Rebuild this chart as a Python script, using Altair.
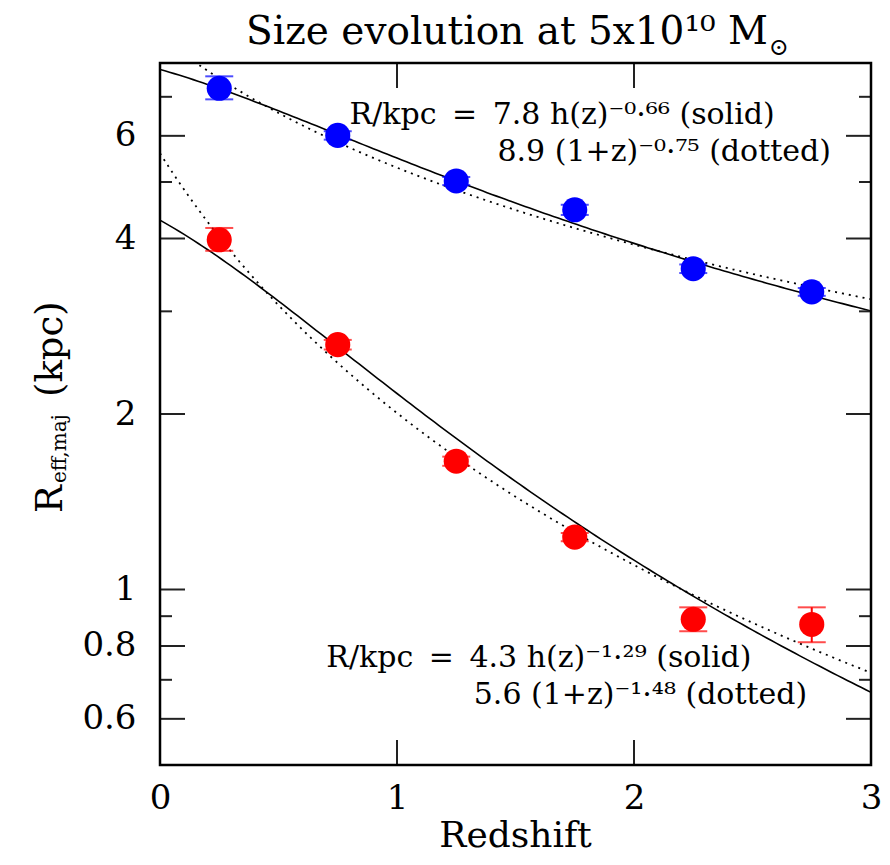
import altair as alt
import numpy as np
import pandas as pd

# ---- data ----
z = [0.25, 0.75, 1.25, 1.75, 2.25, 2.75]
blue_r = [7.24, 6.01, 5.02, 4.48, 3.55, 3.24]
blue_lo = [6.93, 5.91, 4.94, 4.39, 3.49, 3.19]
blue_hi = [7.59, 6.11, 5.10, 4.57, 3.61, 3.29]
red_r = [3.98, 2.63, 1.66, 1.23, 0.889, 0.871]
red_lo = [3.81, 2.58, 1.63, 1.21, 0.848, 0.812]
red_hi = [4.17, 2.68, 1.69, 1.25, 0.932, 0.932]

# fit parameters quoted on the chart
blue_solid = (7.8, -0.66)
blue_dotted = (8.9, -0.75)
red_solid = (4.3, -1.29)
red_dotted = (5.6, -1.48)
omega_m = 0.27

y_major = [0.6, 0.8, 1, 2, 4, 6]
y_minor = [0.7, 0.9, 3, 5, 7]
x_major = [0, 1, 2, 3]

W, H = 711, 702
FONT = "DejaVu Serif"
BLUE = "#0000ff"
RED = "#ff0000"

zz = np.linspace(0, 3, 151)
hz = np.sqrt(omega_m * (1 + zz) ** 3 + 1 - omega_m)
curves = pd.DataFrame({
    "z": zz,
    "bs": blue_solid[0] * hz ** blue_solid[1],
    "bd": blue_dotted[0] * (1 + zz) ** blue_dotted[1],
    "rs": red_solid[0] * hz ** red_solid[1],
    "rd": red_dotted[0] * (1 + zz) ** red_dotted[1],
})
pts = pd.DataFrame({"z": z * 2,
                    "r": blue_r + red_r,
                    "lo": blue_lo + red_lo,
                    "hi": blue_hi + red_hi,
                    "s": ["b"] * 6 + ["r"] * 6})

xscale = alt.Scale(domain=[0, 3], nice=False, zero=False)
yscale = alt.Scale(type="log", domain=[0.5, 8], nice=False)
xaxis = alt.Axis(values=x_major, format="d", title=None, labelFlush=False,
                 labelOverlap=False, labelPadding=16, ticks=False, domain=False,
                 grid=False, labelFontSize=34, labelFont=FONT, labelColor="black")
yaxis = alt.Axis(values=y_major, format="~g", title=None, labelOverlap=False,
                 labelPadding=24, ticks=False, domain=False, grid=False,
                 labelFontSize=34, labelFont=FONT, labelColor="black",
                 labelBaseline="middle")

def X(f):
    return alt.X(f, type="quantitative", scale=xscale, axis=xaxis)

def Y(f):
    return alt.Y(f, type="quantitative", scale=yscale, axis=yaxis)

layers = []
base_c = alt.Chart(curves)
for col, dash in [("bs", None), ("bd", [2, 5]), ("rs", None), ("rd", [2, 5])]:
    kw = dict(clip=True, color="black", strokeWidth=1.6)
    if dash:
        kw["strokeDash"] = dash
        kw["strokeWidth"] = 1.8
    layers.append(base_c.mark_line(**kw).encode(x=X("z"), y=Y(col)))

colscale = alt.Scale(domain=["b", "r"], range=[BLUE, RED])
base_p = alt.Chart(pts)
layers.append(base_p.mark_rule(strokeWidth=2).encode(
    x=X("z"), y=Y("lo"), y2="hi",
    color=alt.Color("s:N", scale=colscale, legend=None)))
for f in ["lo", "hi"]:
    layers.append(base_p.mark_tick(orient="horizontal", size=28, thickness=2).encode(
        x=X("z"), y=Y(f), color=alt.Color("s:N", scale=colscale, legend=None)))
layers.append(base_p.mark_circle(size=630, opacity=1).encode(
    x=X("z"), y=Y("r"), color=alt.Color("s:N", scale=colscale, legend=None)))

# inward frame ticks
tick_col = "#222222"
ymaj = alt.Chart(pd.DataFrame({"v": y_major}))
ymin = alt.Chart(pd.DataFrame({"v": y_minor}))
xmaj = alt.Chart(pd.DataFrame({"v": x_major}))
for src, ln in [(ymaj, 25), (ymin, 12)]:
    layers.append(src.mark_rule(color=tick_col, strokeWidth=2).encode(
        y=Y("v"), x=alt.value(0), x2=alt.value(ln)))
    layers.append(src.mark_rule(color=tick_col, strokeWidth=2).encode(
        y=Y("v"), x=alt.value(W - ln), x2=alt.value(W)))
layers.append(xmaj.mark_rule(color=tick_col, strokeWidth=2).encode(
    x=X("v"), y=alt.value(H), y2=alt.value(H - 25)))
layers.append(xmaj.mark_rule(color=tick_col, strokeWidth=2).encode(
    x=X("v"), y=alt.value(0), y2=alt.value(25)))

# plot frame
layers.append(alt.Chart(pd.DataFrame({"a": [0]})).mark_rect(
    filled=False, stroke="black", strokeWidth=2.5).encode(
    x=alt.value(0), x2=alt.value(W), y=alt.value(0), y2=alt.value(H)))

# fit annotations (data coordinates)
ts = "\u2009"
ann = pd.DataFrame({
    "x": [0.80, 1.424, 0.702, 1.324],
    "y": [6.29, 5.43, 0.736, 0.636],
    "t": [f"R/kpc {ts}={ts} 7.8 h(z)\u207b\u2070\u00b7\u2076\u2076 (solid)",
          "8.9 (1+z)\u207b\u2070\u00b7\u2077\u2075 (dotted)",
          f"R/kpc {ts}={ts} 4.3 h(z)\u207b\u00b9\u00b7\u00b2\u2079 (solid)",
          "5.6 (1+z)\u207b\u00b9\u00b7\u2074\u2078 (dotted)"],
})
layers.append(alt.Chart(ann).mark_text(align="left", baseline="alphabetic",
                                       font=FONT, fontSize=30, color="black").encode(
    x=X("x"), y=Y("y"), text="t:N"))

# titles
def label(txt, x, y, size, align="left", baseline="alphabetic", angle=0):
    kw = dict(align=align, baseline=baseline, font=FONT, fontSize=size,
              color="black", text=txt)
    if angle:
        kw["angle"] = angle
    return alt.Chart(pd.DataFrame({"a": [0]})).mark_text(**kw).encode(
        x=alt.value(x), y=alt.value(y))

layers.append(label("Size evolution at 5x10\u00b9\u2070 M", 608, -19, 39, align="right"))
layers.append(label("\u2299", 619, -15, 24, align="center", baseline="middle"))
layers.append(label("Redshift", W / 2, 784, 36, align="center"))
layers.append(label("R", -98, 450, 37, angle=270))
layers.append(label("eff,maj", -94, 420, 20, angle=270))
layers.append(label("(kpc)", -98, 334, 37, angle=270))

chart = alt.layer(*layers).properties(
    width=W, height=H,
    autosize=alt.AutoSizeParams(type="none"),
    padding={"left": 152, "top": 55, "right": 11, "bottom": 92},
).configure_view(stroke=None).configure(background="white")

chart.save("out.html", embed_options={"renderer": "svg", "actions": False})
